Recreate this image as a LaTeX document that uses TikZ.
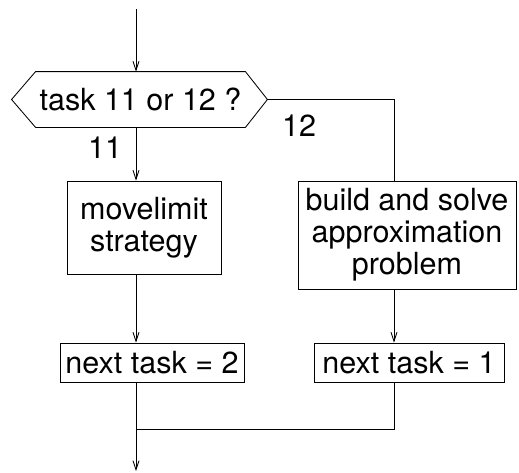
\documentclass[tikz,border=0pt]{standalone}
\usepackage{fontspec}
\setmainfont{TeX Gyre Heros}
\usetikzlibrary{arrows.meta,calc}
\begin{document}
\begin{tikzpicture}[x=1pt,y=-1pt,line width=0.85pt,
  every node/.style={font=\fontsize{30.5}{32}\selectfont,inner sep=0pt},
  proc/.style={draw,align=center},
  arr/.style={-{Straight Barb[length=9pt,width=6pt]}}]
\useasboundingbox (0,0) rectangle (519,472);

% decision: hexagon around the question
\node[minimum width=209pt,minimum height=55pt] (q) at (140.5,99.5) {task 11 or 12 ?};
\coordinate (qw) at ($(q.west)+(-24,0)$);
\coordinate (qe) at ($(q.east)+(22,0)$);
\draw (qw) -- (q.north west) -- (q.north east) -- (qe) -- (q.south east) -- (q.south west) -- cycle;

% process boxes
\node[proc,minimum width=154pt,minimum height=93pt] (ml) at (144,227.5) {movelimit\\strategy};
\node[proc,minimum width=218pt,minimum height=108pt] (bs) at (407,235) {build and solve\\approximation\\problem};
\node[proc,minimum width=184pt,minimum height=39pt] (n2) at (152,362.5) {next task = 2};
\node[proc,minimum width=190pt,minimum height=39pt] (n1) at (409,362.5) {next task = 1};

% branch labels
\node (l11) at (105,148) {11};
\node (l12) at (299,126) {12};

% connectors
\coordinate (top) at (136,9);
\coordinate (xr) at (394,0);
\coordinate (join) at (136,429);
\coordinate (end) at (136,471);
\draw[arr] (top) -- (top |- q.north);
\draw[arr] (top |- q.south) -- (top |- ml.north);
\draw (qe) -| (xr |- bs.north);
\draw[arr] (top |- ml.south) -- (top |- n2.north);
\draw[arr] (xr |- bs.south) -- (xr |- n1.north);
\draw (top |- n2.south) -- (join);
\draw (xr |- n1.south) |- (join);
\draw[arr] (join) -- (end);
\end{tikzpicture}
\end{document}
